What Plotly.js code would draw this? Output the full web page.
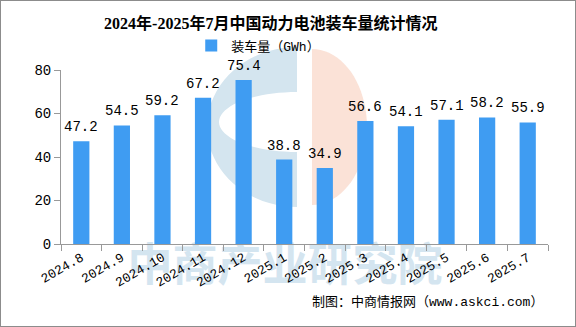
<!DOCTYPE html>
<html><head><meta charset="utf-8">
<script src="https://cdn.plot.ly/plotly-3.0.1.min.js"></script>
<style>
html,body{margin:0;padding:0;background:#fff;}
#chart{width:574px;height:325px;border:1px solid #8c8c8c;}
</style></head>
<body><div id="chart"></div>
<script>
const months = ["2024.8","2024.9","2024.10","2024.11","2024.12","2025.1","2025.2","2025.3","2025.4","2025.5","2025.6","2025.7"];
const volume = [47.2,54.5,59.2,67.2,75.4,38.8,34.9,56.6,54.1,57.1,58.2,55.9];
const seriesName = "装车量（GWh）";
const titleText = "2024年-2025年7月中国动力电池装车量统计情况";
const sourceText = "制图：中商情报网（www.askci.com）";
const watermarkText = "中商产业研究院";

const mono = "Liberation Mono, Noto Sans CJK SC, monospace";
const labelAnn = months.map((m,i)=>({
  x:i, y:volume[i], xref:'x', yref:'y', text:volume[i].toFixed(1),
  showarrow:false, yanchor:'bottom', yshift:4,
  font:{family:mono,size:14,color:'#000'}
}));

// decorative watermark logo (pixel -> paper helper, not data)
const PX0=61, PW=487, PY0=244, PH=174;
const px=(x)=>(x-PX0)/PW, py=(y)=>(PY0-y)/PH;
function halfEllipse(cx,cy,rx,ry,side,n){
  const pts=[];
  for(let k=0;k<=n;k++){
    const t=-Math.PI/2+Math.PI*k/n;
    pts.push([cx+side*rx*Math.cos(t), cy+ry*Math.sin(t)]);
  }
  return pts;
}
function toPath(pts){return pts.map((p,i)=>(i?'L':'M')+px(p[0]).toFixed(4)+','+py(p[1]).toFixed(4)).join(' ');}
const outer=halfEllipse(297,127,90,80,-1,40);
const inner=halfEllipse(297,122,78,30,-1,40).reverse();
const cPath=toPath(outer.concat(inner))+' Z';
const peach=halfEllipse(312,127,55,78,1,40);
const pPath=toPath(peach)+' Z';

const shapes=[
  {type:'path',xref:'paper',yref:'paper',path:cPath,fillcolor:'#d4e5ef',line:{width:0},layer:'below'},
  {type:'path',xref:'paper',yref:'paper',path:pPath,fillcolor:'#fbe2d7',line:{width:0},layer:'below'},
  {type:'rect',xref:'paper',yref:'paper',x0:px(110),x1:px(460),y0:py(290),y1:py(246),
   line:{width:0},fillcolor:'rgba(0,0,0,0)',layer:'below',
   label:{text:'<b>'+watermarkText+'</b>',textposition:'middle center',
     font:{family:'Noto Sans CJK SC',size:45,color:'#d4e5f0'}}}
];

Plotly.newPlot('chart',[{
  type:'bar', x:months, y:volume, name:seriesName,
  marker:{color:'#3f9cf2'}, showlegend:true
}],{
  width:574, height:325,
  margin:{l:60,r:27,t:69,b:82},
  paper_bgcolor:'#fff', plot_bgcolor:'rgba(0,0,0,0)',
  bargap:0.6,
  title:{text:'<b>'+titleText+'</b>', x:0.47, xanchor:'center', y:0.932, yanchor:'middle',
    font:{family:'Liberation Serif, Noto Sans CJK SC, serif',size:16,color:'#000'}},
  showlegend:true,
  legend:{orientation:'h', x:0.405, xanchor:'center', xref:'paper', y:1.14, yanchor:'middle',
    font:{family:mono,size:13,color:'#000'}, itemwidth:12, bgcolor:'rgba(0,0,0,0)'},
  xaxis:{type:'category', range:[-0.5,11.5], tickson:'boundaries', ticks:'outside', ticklen:6, tickcolor:'#999',
    showline:true, linecolor:'#999', linewidth:1, showgrid:false, tickangle:-30,
    tickfont:{family:mono,size:13,color:'#000'}},
  yaxis:{range:[0,80], dtick:20, ticks:'outside', ticklen:6, tickcolor:'#999',
    showline:true, linecolor:'#999', showgrid:false, zeroline:false,
    tickfont:{family:mono,size:14,color:'#000'}},
  shapes:shapes,
  annotations:labelAnn.concat([
    {xref:'paper',yref:'paper',x:0.994,y:-0.339,xanchor:'right',yanchor:'middle',text:sourceText,showarrow:false,
     font:{family:'Liberation Mono, Noto Sans CJK SC',size:13,color:'#000'}}
  ])
},{displayModeBar:false, staticPlot:true});
</script></body></html>
